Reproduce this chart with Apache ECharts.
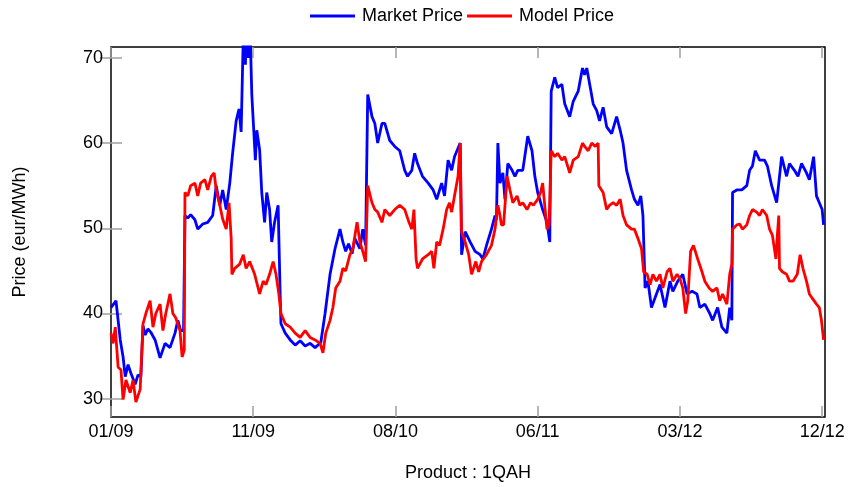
<!DOCTYPE html>
<html>
<head>
<meta charset="utf-8">
<script src="https://cdn.jsdelivr.net/npm/echarts@6/dist/echarts.min.js"></script>
<style>
  html, body { margin: 0; padding: 0; background: #fff; }
  #chart { width: 848px; height: 487px; }
</style>
</head>
<body>
<div id="chart"></div>
<script>
// Trading-day index along the x axis and the dates shown at the ticks
const tickDays = [0, 200, 400, 600, 800, 1000];
const tickLabels = ['01/09', '11/09', '08/10', '06/11', '03/12', '12/12'];
const priceTicks = [30, 40, 50, 60, 70];

// Market price (eur/MWh) by trading day
const marketDays = [
  0, 7, 13, 17, 20, 24, 28, 34, 38, 42, 45, 48, 52, 56, 62, 69, 76, 83, 90, 94,
  98, 102, 104, 108, 112, 118, 122, 129, 136, 143, 148, 153, 157, 162, 167, 171, 176, 180, 183, 186,
  189, 190, 193, 196, 198, 203, 205, 209, 212, 216, 219, 223, 226, 230, 235, 238, 239, 245, 252, 259,
  266, 273, 280, 287, 295, 301, 308, 315, 322, 326, 330, 334, 339, 343, 350, 354, 358, 361, 367, 371,
  375, 381, 385, 392, 399, 406, 413, 417, 423, 427, 431, 438, 446, 453, 458, 465, 469, 474, 479, 483,
  491, 493, 498, 505, 512, 519, 523, 528, 535, 540, 542, 544, 547, 551, 554, 558, 564, 568, 572, 579,
  586, 592, 596, 600, 607, 613, 617, 619, 624, 628, 634, 638, 645, 650, 657, 663, 666, 669, 674, 678,
  683, 687, 692, 697, 704, 711, 716, 720, 725, 732, 736, 741, 745, 748, 751, 755, 760, 767, 772, 779,
  786, 790, 797, 804, 810, 817, 824, 828, 835, 842, 846, 853, 859, 866, 870, 873, 874, 880, 887, 894,
  898, 902, 906, 912, 919, 923, 929, 936, 939, 943, 950, 954, 961, 966, 971, 978, 982, 988, 992, 996,
  1000, 1002
];
const marketPrice = [
  40.7, 41.5, 36.9, 34.9, 32.6, 34.0, 33.0, 31.7, 32.8, 32.6, 38.6, 37.5, 38.2, 37.8, 36.9, 34.8, 36.5, 36.0, 37.7, 39.2,
  38.0, 38.0, 51.5, 51.2, 51.6, 51.0, 49.9, 50.5, 50.7, 51.5, 55.0, 52.7, 54.5, 52.2, 55.3, 58.8, 62.6, 64.0, 61.3, 72.5,
  69.2, 72.5, 70.0, 72.0, 65.7, 58.0, 61.5, 59.2, 54.2, 50.7, 54.2, 52.2, 48.4, 50.7, 52.7, 41.8, 38.8, 37.7, 36.9, 36.3,
  36.8, 36.2, 36.5, 36.0, 36.6, 40.0, 44.6, 47.6, 49.9, 48.4, 47.3, 48.2, 47.0, 48.8, 47.6, 49.9, 48.0, 65.7, 63.1, 62.3,
  60.0, 62.3, 62.3, 60.3, 59.6, 59.1, 56.8, 56.1, 56.8, 58.8, 57.6, 56.1, 55.3, 54.5, 53.4, 55.3, 53.8, 58.0, 56.8, 58.4,
  60.0, 46.9, 49.6, 48.4, 47.3, 46.9, 46.4, 48.0, 49.9, 51.5, 51.0, 60.0, 55.3, 56.5, 53.4, 57.6, 56.8, 56.1, 56.8, 56.8,
  60.8, 59.1, 56.1, 54.2, 52.2, 50.7, 48.4, 66.1, 67.7, 66.5, 66.9, 64.6, 63.1, 64.9, 66.1, 68.8, 68.0, 68.8, 66.5, 64.6,
  63.8, 62.6, 64.2, 61.9, 61.1, 63.1, 61.5, 60.0, 56.8, 54.5, 53.4, 52.7, 53.8, 51.5, 43.0, 43.8, 40.7, 42.3, 43.4, 40.7,
  43.8, 42.6, 43.8, 44.6, 42.3, 42.6, 42.3, 40.7, 41.1, 40.0, 39.2, 40.7, 38.4, 37.7, 40.7, 39.2, 54.2, 54.5, 54.5, 55.0,
  56.8, 57.3, 59.1, 58.0, 58.0, 57.3, 55.0, 53.0, 55.3, 58.4, 56.1, 57.6, 56.8, 56.1, 57.6, 56.5, 55.7, 58.4, 53.8, 53.0,
  52.2, 50.4
];

// Model price (eur/MWh) by trading day
const modelDays = [
  0, 3, 6, 10, 14, 17, 21, 27, 31, 35, 41, 42, 45, 49, 55, 59, 63, 69, 73, 77,
  83, 87, 91, 97, 100, 103, 104, 108, 112, 118, 122, 126, 132, 136, 141, 145, 148, 153, 157, 162,
  166, 169, 170, 174, 181, 186, 190, 195, 202, 209, 214, 218, 223, 228, 232, 236, 239, 245, 252, 259,
  266, 273, 280, 287, 294, 298, 302, 308, 312, 316, 322, 326, 330, 336, 340, 346, 350, 354, 358, 361,
  367, 371, 375, 381, 385, 392, 399, 406, 413, 419, 423, 426, 429, 431, 438, 446, 451, 454, 458, 462,
  467, 472, 476, 479, 483, 488, 491, 493, 498, 503, 507, 513, 517, 521, 528, 535, 540, 544, 547, 549,
  552, 557, 561, 565, 571, 575, 579, 585, 590, 594, 600, 604, 607, 613, 616, 619, 624, 628, 634, 638,
  645, 650, 657, 663, 666, 671, 676, 681, 685, 686, 692, 697, 701, 706, 711, 716, 720, 725, 732, 736,
  741, 746, 749, 754, 758, 762, 767, 772, 776, 782, 786, 790, 796, 800, 804, 808, 811, 815, 819, 825,
  831, 835, 841, 846, 852, 856, 860, 866, 870, 873, 874, 880, 884, 888, 894, 898, 902, 908, 912, 916,
  922, 926, 930, 935, 937, 939, 940, 944, 950, 954, 959, 965, 969, 973, 978, 982, 986, 992, 996, 999,
  1002
];
const modelPrice = [
  37.7, 36.5, 38.4, 33.7, 33.4, 29.9, 32.2, 30.7, 32.2, 29.6, 31.1, 33.0, 38.8, 40.0, 41.5, 38.4, 40.0, 41.1, 38.0, 40.0,
  42.3, 40.0, 39.5, 38.0, 34.9, 35.7, 54.2, 53.8, 55.0, 55.3, 53.8, 55.3, 55.7, 54.5, 56.1, 56.5, 54.5, 52.7, 51.1, 49.9,
  53.0, 48.8, 44.6, 45.3, 45.8, 46.9, 45.3, 46.1, 44.6, 42.3, 43.8, 43.4, 44.6, 46.1, 44.6, 42.3, 40.0, 38.8, 38.4, 37.7,
  37.2, 38.0, 37.2, 36.9, 36.5, 35.4, 37.7, 39.2, 40.7, 43.0, 43.8, 45.3, 45.0, 46.9, 47.6, 50.7, 48.4, 47.3, 46.1, 55.0,
  53.0, 52.2, 51.9, 50.7, 52.2, 51.5, 52.2, 52.7, 52.2, 50.7, 49.9, 52.2, 46.4, 45.3, 46.4, 46.9, 47.3, 45.3, 48.4, 48.0,
  49.9, 52.2, 53.0, 51.9, 53.8, 56.1, 60.0, 49.6, 48.4, 46.9, 44.6, 46.1, 44.9, 46.1, 46.9, 48.0, 49.9, 52.7, 51.5, 50.4,
  50.4, 56.1, 54.5, 53.0, 53.8, 52.7, 53.0, 52.2, 53.0, 52.7, 53.4, 54.2, 55.3, 49.9, 50.4, 59.1, 58.4, 58.8, 58.0, 58.4,
  56.5, 58.0, 58.4, 60.0, 59.6, 59.1, 60.0, 59.6, 60.0, 55.0, 54.2, 52.2, 52.7, 53.0, 52.7, 53.4, 51.5, 50.4, 49.9, 49.9,
  48.8, 47.6, 44.9, 44.6, 43.4, 44.6, 43.8, 44.6, 43.0, 44.9, 45.3, 43.8, 44.6, 44.1, 43.0, 40.0, 41.5, 47.3, 48.0, 46.4,
  44.9, 43.8, 43.0, 42.6, 43.0, 41.5, 42.3, 41.1, 44.6, 45.8, 49.9, 50.4, 50.5, 49.9, 50.4, 51.5, 52.2, 51.9, 51.5, 52.2,
  51.5, 49.9, 49.2, 46.4, 49.2, 51.5, 45.3, 44.9, 44.6, 43.8, 43.8, 44.6, 46.9, 45.3, 43.8, 42.3, 41.8, 41.1, 40.7, 39.2,
  36.9
];

const zip = (xs, ys) => xs.map((x, i) => [x, ys[i]]);

const FONT = "'Liberation Sans', Arial, sans-serif";
const tickStyle = { color: '#a0a0a0', width: 1.5 };
const BLUE = '#0000ff';
const RED = '#ff0000';

const chart = echarts.init(document.getElementById('chart'), null, { renderer: 'canvas' });

const xBase = {
  type: 'value',
  min: 0,
  max: 1004,
  splitLine: { show: false },
  axisLine: { show: false },
  axisTick: { show: true, inside: true, length: 11, customValues: tickDays, lineStyle: tickStyle }
};
const yBase = {
  type: 'value',
  min: 27.86,
  max: 71.27,
  splitLine: { show: false },
  axisLine: { show: false },
  axisTick: { show: true, inside: true, length: 11, customValues: priceTicks, lineStyle: tickStyle }
};

chart.setOption({
  animation: false,
  backgroundColor: '#ffffff',
  textStyle: { fontFamily: FONT },
  legend: {
    left: 305,
    top: 2,
    itemWidth: 45,
    itemHeight: 3,
    itemGap: 4,
    textStyle: { fontFamily: FONT, fontSize: 18, color: '#000', padding: [0, 0, 0, 2] },
    data: [
      { name: 'Market Price', icon: 'rect', itemStyle: { color: BLUE } },
      { name: 'Model Price', icon: 'rect', itemStyle: { color: RED } }
    ]
  },
  grid: {
    left: 111,
    right: 23,
    top: 47,
    bottom: 64,
    show: true,
    borderColor: '#000',
    borderWidth: 1.5,
    backgroundColor: 'transparent'
  },
  xAxis: [
    Object.assign({}, xBase, {
      position: 'bottom',
      name: 'Product : 1QAH',
      nameLocation: 'middle',
      nameGap: 47,
      nameTextStyle: { fontFamily: FONT, fontSize: 18, color: '#000' },
      axisLabel: {
        show: true,
        margin: 6,
        customValues: tickDays,
        fontFamily: FONT,
        fontSize: 18,
        color: '#000',
        formatter: v => tickLabels[tickDays.indexOf(v)]
      }
    }),
    Object.assign({}, xBase, { position: 'top', axisLabel: { show: false } })
  ],
  yAxis: [
    Object.assign({}, yBase, {
      position: 'left',
      name: 'Price (eur/MWh)',
      nameLocation: 'middle',
      nameGap: 82,
      nameRotate: 90,
      nameTextStyle: { fontFamily: FONT, fontSize: 18, color: '#000' },
      axisLabel: {
        show: true,
        margin: 8,
        customValues: priceTicks,
        fontFamily: FONT,
        fontSize: 18,
        color: '#000'
      }
    }),
    Object.assign({}, yBase, { position: 'right', axisLabel: { show: false } })
  ],
  series: [
    {
      name: 'Market Price',
      type: 'line',
      xAxisIndex: 0,
      yAxisIndex: 0,
      symbol: 'none',
      clip: true,
      lineStyle: { color: BLUE, width: 2.8 },
      itemStyle: { color: BLUE },
      data: zip(marketDays, marketPrice)
    },
    {
      name: 'Model Price',
      type: 'line',
      xAxisIndex: 0,
      yAxisIndex: 0,
      symbol: 'none',
      clip: true,
      lineStyle: { color: RED, width: 2.8 },
      itemStyle: { color: RED },
      data: zip(modelDays, modelPrice)
    }
  ]
});
</script>
</body>
</html>
